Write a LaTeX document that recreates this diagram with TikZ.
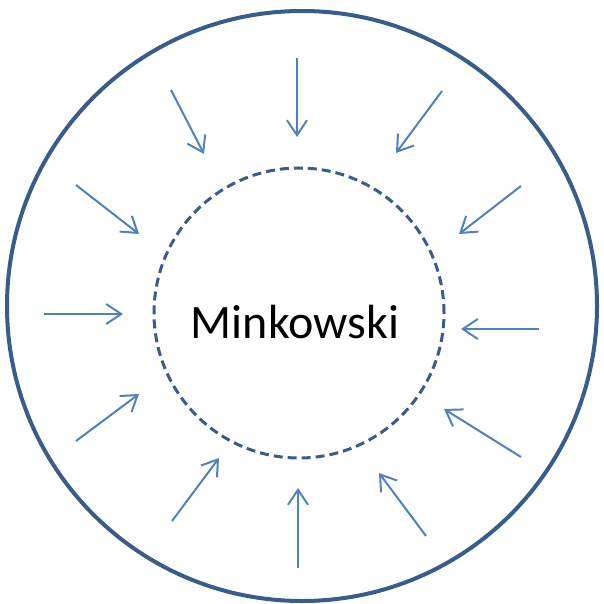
\documentclass[tikz,border=0pt]{standalone}
\usepackage{fontspec}
\setmainfont{Carlito}
\usetikzlibrary{arrows.meta}
\definecolor{ringblue}{RGB}{56,93,138}
\definecolor{arrowblue}{RGB}{79,129,189}
\begin{document}
\begin{tikzpicture}[x=1pt,y=-1pt,
  ring/.style={circle,draw=ringblue,line width=4pt,inner sep=0pt},
  inner/.style={circle,draw=ringblue,line width=3pt,dash pattern=on 9pt off 5pt,inner sep=0pt},
  inarrow/.style={draw=arrowblue,line width=2pt,-{Straight Barb[length=15pt,width=20pt,line width=2pt]}}]
\useasboundingbox (0,0) rectangle (603,604);
\node[ring,minimum size=590pt] (outer) at (302,306) {};
\node[inner,minimum size=290pt] (mink) at (299,313) {};
\node[font=\fontsize{48}{52}\selectfont] (label) at (295,322) {Minkowski};
\foreach \i/\xa/\ya/\xb/\yb in {
  1/297/58/297/137,
  2/442/91/396/153,
  3/521/186/459/234,
  4/539/329/461/329,
  5/521/457/444/409,
  6/426/536/379/473,
  7/298/568/298/488,
  8/172/521/219/458,
  9/76/441/139/394,
  10/44/314/123/314,
  11/76/185/139/234,
  12/171/90/204/154}{
  \coordinate (s\i) at (\xa,\ya);
  \coordinate (e\i) at (\xb,\yb);
  \draw[inarrow] (s\i) -- (e\i);
}
\end{tikzpicture}
\end{document}
